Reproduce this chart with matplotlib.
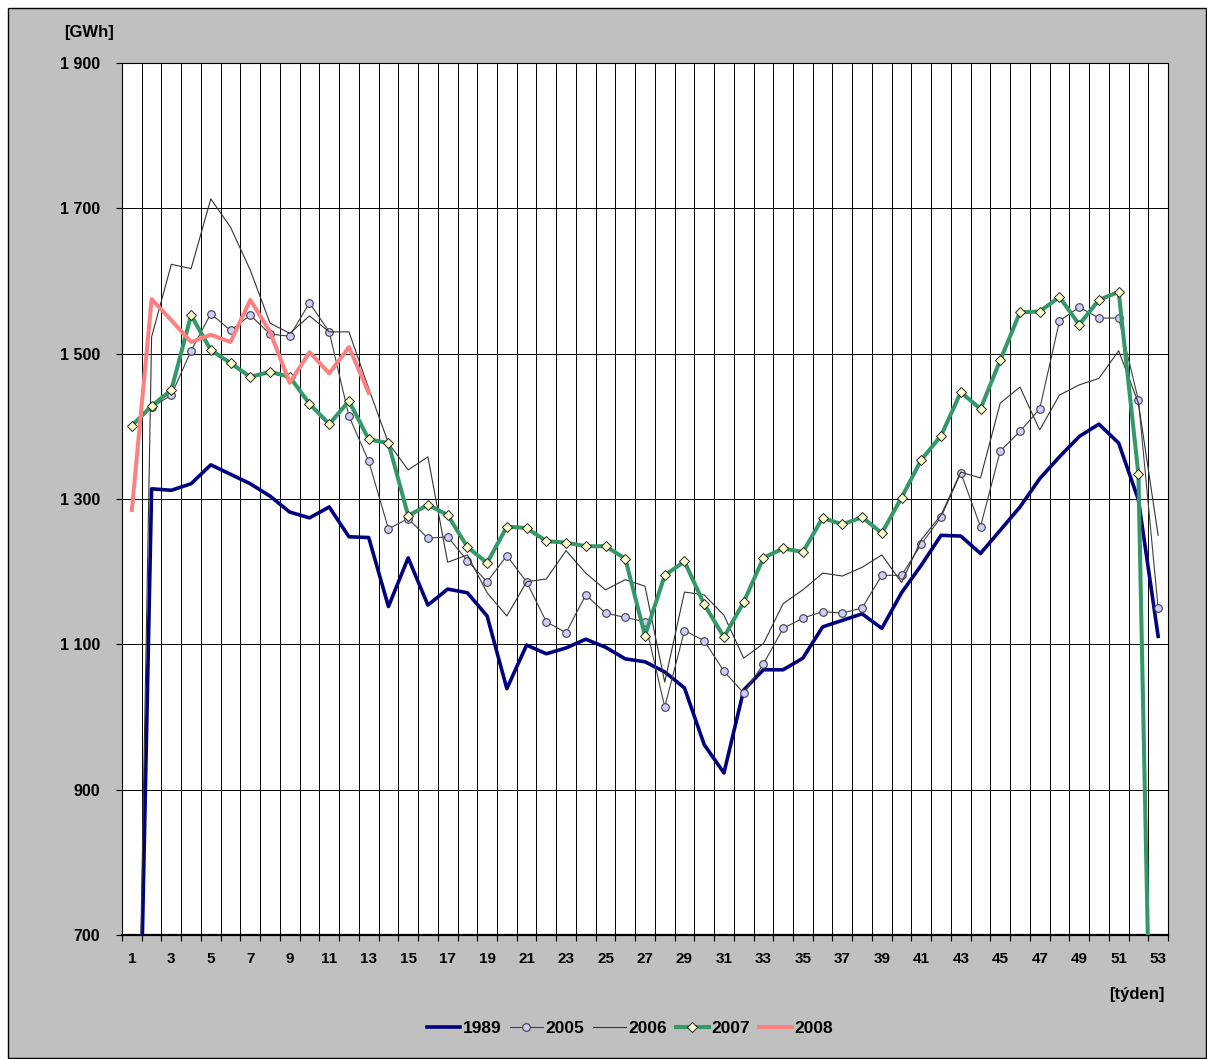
import numpy as np
import matplotlib
matplotlib.use("Agg")
import matplotlib.pyplot as plt
from matplotlib.ticker import FixedLocator, FuncFormatter
from matplotlib.patches import Rectangle

plt.rcParams['font.family'] = ['Liberation Sans', 'DejaVu Sans']
plt.rcParams['font.weight'] = 'bold'

nan = np.nan
weeks = np.arange(1, 54)

y1989 = [0, 1314, 1312, 1321, 1347, 1334, 1321, 1304, 1282, 1274, 1289, 1248, 1247,
         1152, 1219, 1154, 1176, 1171, 1139, 1039, 1099, 1087, 1095, 1107, 1096, 1080,
         1076, 1062, 1040, 962, 923, 1037, 1065, 1065, 1081, 1124, 1133, 1142, 1122,
         1171, 1209, 1250, 1249, 1225, 1257, 1289, 1328, 1358, 1386, 1403, 1377, 1299, 1111]
y2005 = [nan, 1426, 1443, 1504, 1555, 1532, 1553, 1527, 1524, 1570, 1530, 1414, 1352,
         1259, 1273, 1246, 1248, 1215, 1186, 1222, 1186, 1131, 1116, 1168, 1143, 1137,
         1131, 1014, 1119, 1105, 1063, 1033, 1073, 1122, 1136, 1145, 1143, 1150, 1195,
         1195, 1238, 1275, 1336, 1262, 1366, 1393, 1424, 1545, 1564, 1549, 1549, 1436, 1150]
y2006 = [0, 1523, 1623, 1617, 1713, 1674, 1615, 1542, 1528, 1552, 1530, 1530, 1452,
         1377, 1340, 1358, 1213, 1223, 1171, 1139, 1186, 1190, 1229, 1198, 1175, 1189,
         1180, 1048, 1172, 1168, 1140, 1081, 1101, 1156, 1175, 1198, 1194, 1206, 1223,
         1185, 1244, 1278, 1337, 1329, 1432, 1454, 1395, 1443, 1457, 1466, 1504, 1432, 1250]
y2007 = [1401, 1428, 1450, 1553, 1505, 1487, 1468, 1475, 1468, 1431, 1403, 1435, 1382,
         1377, 1277, 1292, 1278, 1234, 1212, 1262, 1260, 1242, 1240, 1235, 1235, 1218,
         1112, 1195, 1214, 1155, 1110, 1158, 1219, 1232, 1227, 1274, 1265, 1275, 1253,
         1302, 1354, 1387, 1447, 1424, 1491, 1557, 1558, 1578, 1540, 1574, 1585, 1334, 0]
y2008 = [1285, 1575, 1546, 1516, 1526, 1516, 1574, 1530, 1460, 1502, 1473, 1509, 1446] + [nan] * 40

W, H = 1207, 1059
fig = plt.figure(figsize=(W / 100, H / 100), dpi=100, facecolor='white')

# grey chart area with black frame
fig.patches.append(Rectangle((8 / W, 1 / H), (W - 9) / W, (H - 9) / H,
                             transform=fig.transFigure, facecolor='#c0c0c0',
                             edgecolor='black', linewidth=1.0, zorder=-10))

ax = fig.add_axes([122 / W, 1 - 935 / H, (1168 - 122) / W, (935 - 63) / H])
ax.set_facecolor('white')

ax.plot(weeks, y1989, color='#000080', lw=2.6, label='1989', zorder=3)
ax.plot(weeks, y2005, color='#404040', lw=0.8, marker='o', ms=5.5,
        mfc='#ccccff', mec='#404040', mew=0.8, label='2005', zorder=4)
ax.plot(weeks, y2006, color='#333333', lw=0.8, label='2006', zorder=5)
ax.plot(weeks, y2007, color='#339966', lw=2.9, marker='D', ms=4.8,
        mfc='#ffffcc', mec='#222222', mew=0.7, label='2007', zorder=6)
ax.plot(weeks, y2008, color='#ff8080', lw=2.9, label='2008', zorder=7)

ax.set_xlim(0.5, 53.5)
ax.set_ylim(700, 1900)

ax.xaxis.set_major_locator(FixedLocator(np.arange(1, 54, 2)))
ax.xaxis.set_minor_locator(FixedLocator(np.arange(0.5, 54, 1)))
ax.yaxis.set_major_locator(FixedLocator(np.arange(700, 1901, 200)))
ax.yaxis.set_major_formatter(FuncFormatter(lambda v, p: f"{v:,.0f}".replace(",", " ")))

ax.tick_params(axis='x', which='major', length=0, pad=12, labelsize=11)
ax.tick_params(axis='x', which='minor', length=4, width=0.8, direction='out', color='black')
ax.tick_params(axis='y', which='major', length=4, width=0.8, direction='out',
               pad=12, labelsize=11.5)
for lab in ax.get_xticklabels() + ax.get_yticklabels():
    lab.set_fontweight('bold')

ax.grid(True, axis='x', which='minor', color='black', lw=0.7)
ax.grid(True, axis='y', which='major', color='black', lw=0.7)
ax.grid(False, axis='x', which='major')
ax.set_axisbelow(True)

for s in ax.spines.values():
    s.set_color('black')
    s.set_linewidth(0.8)
ax.spines['bottom'].set_linewidth(1.6)

fig.text(89 / W, 1 - 33 / H, '[GWh]', ha='center', va='center', fontsize=12, fontweight='bold')
fig.text(1137 / W, 1 - 994 / H, '[týden]', ha='center', va='center', fontsize=12, fontweight='bold')

leg = fig.legend(loc='center', bbox_to_anchor=(630 / W, 1 - 1028 / H), ncol=5,
                 frameon=False, fontsize=12.5, handlelength=1.9, handletextpad=0.15,
                 columnspacing=0.5, borderaxespad=0)
for t in leg.get_texts():
    t.set_fontweight('bold')

fig.savefig('out.png', dpi=100, facecolor=fig.get_facecolor())
